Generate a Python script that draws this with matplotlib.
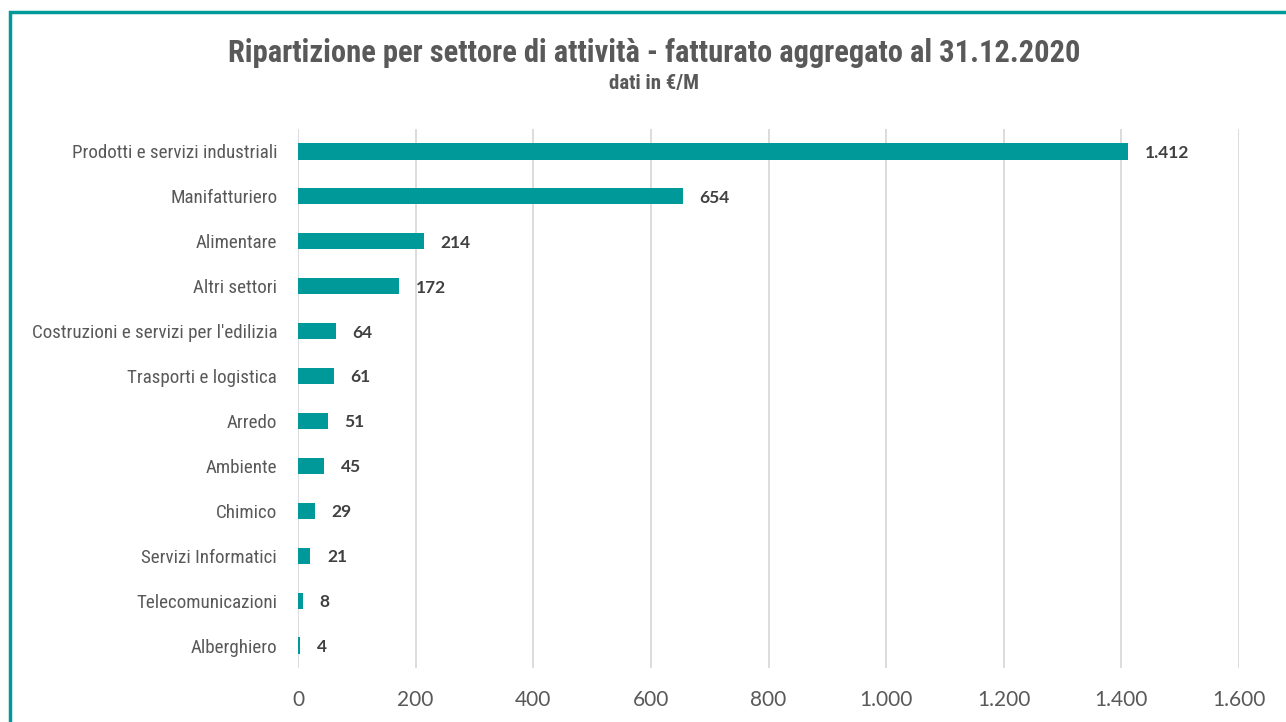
import matplotlib
matplotlib.use("Agg")
import matplotlib.pyplot as plt
from matplotlib.patches import Rectangle
from matplotlib.ticker import FuncFormatter

sectors = [
    "Prodotti e servizi industriali",
    "Manifatturiero",
    "Alimentare",
    "Altri settori",
    "Costruzioni e servizi per l'edilizia",
    "Trasporti e logistica",
    "Arredo",
    "Ambiente",
    "Chimico",
    "Servizi Informatici",
    "Telecomunicazioni",
    "Alberghiero",
]
revenue = [1412, 654, 214, 172, 64, 61, 51, 45, 29, 21, 8, 4]
x_ticks = [0, 200, 400, 600, 800, 1000, 1200, 1400, 1600]

TEAL = "#009999"
GREY_TEXT = "#595959"
GRID = "#d9d9d9"
NARROW = ["Roboto Condensed", "Barlow Semi Condensed", "DejaVu Sans"]
NUMS = ["Lato", "DejaVu Sans"]


def it_number(v, _pos=None):
    # Italian thousands separator: 1.412
    return f"{int(v):,}".replace(",", ".")


fig = plt.figure(figsize=(12.86, 7.22), dpi=100)
fig.patches.append(Rectangle((10 / 1286, -0.1), 1.2, (722 - 12) / 722 + 0.1,
                             transform=fig.transFigure, fill=False,
                             edgecolor=TEAL, linewidth=2.5))

ax = fig.add_axes([298 / 1286, 1 - 668 / 722, 941 / 1286, (668 - 129) / 722])
ypos = range(len(sectors))
ax.barh(ypos, revenue, height=0.36, color=TEAL, zorder=3)
ax.set_ylim(len(sectors) - 0.5, -0.5)
ax.set_xlim(0, 1600)
ax.set_xticks(x_ticks)
ax.xaxis.set_major_formatter(FuncFormatter(it_number))
ax.set_yticks(list(ypos))
ax.set_yticklabels(sectors, family=NARROW, fontsize=13.7, color=GREY_TEXT)
ax.tick_params(axis="both", length=0)
ax.tick_params(axis="y", pad=15)
ax.tick_params(axis="x", pad=16, labelsize=15, labelcolor=GREY_TEXT)
for lbl in ax.get_xticklabels():
    lbl.set_family(NUMS)
ax.grid(axis="x", color=GRID, linewidth=1.3, zorder=0)
for spine in ax.spines.values():
    spine.set_visible(False)

for y, v in zip(ypos, revenue):
    ax.annotate(it_number(v), (v, y), xytext=(12, -1), textcoords="offset points",
                ha="left", va="center", fontsize=12.5, fontweight="bold",
                color="#404040", family=NUMS)

fig.text(654 / 1286, 1 - 53 / 722,
         "Ripartizione per settore di attività - fatturato aggregato al 31.12.2020",
         ha="center", va="center", fontsize=22, fontweight="bold",
         color=GREY_TEXT, family=NARROW)
fig.text(654 / 1286, 1 - 84 / 722, "dati in €/M", ha="center", va="center",
         fontsize=15, fontweight="bold", color=GREY_TEXT, family=NARROW)

fig.savefig("out.png", dpi=100)
